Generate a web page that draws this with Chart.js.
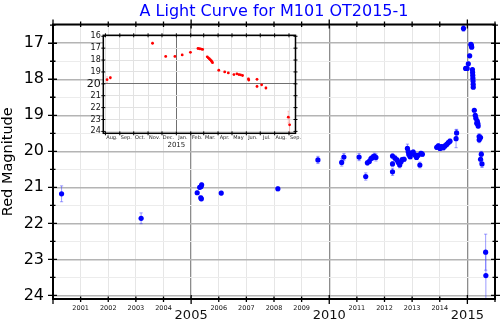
<!DOCTYPE html>
<html>
<head>
<meta charset="utf-8">
<script src="https://cdn.jsdelivr.net/npm/chart.js@4.4.0/dist/chart.umd.min.js"></script>
<style>
    html, body { margin: 0; padding: 0; background: #fff; }
    #wrap { position: relative; width: 500px; height: 325px; }
    #mainChart { position: absolute; left: 0; top: 0; }
    #insetChart { position: absolute; left: 70px; top: 28px; }
</style>
</head>
<body>
<div id="wrap">
    <canvas id="mainChart" width="500" height="325"></canvas>
    <canvas id="insetChart" width="232" height="124"></canvas>
</div>
<script>
// older photometry (decimal year, red magnitude, 1-sigma error)
const oldYears = [2000.31, 2003.19, 2005.22, 2005.31, 2005.36, 2005.38, 2005.35, 2005.37, 2006.09, 2008.14, 2009.59,
    2010.45, 2010.53, 2011.08, 2011.32, 2011.38, 2011.45, 2011.51, 2011.57, 2011.63, 2011.69,
    2012.29, 2012.29, 2012.29, 2012.38, 2012.45, 2012.50, 2012.55, 2012.60, 2012.64, 2012.71,
    2012.83, 2012.86, 2012.88, 2012.93, 2012.98, 2013.04, 2013.10, 2013.16, 2013.22, 2013.28, 2013.32, 2013.37,
    2013.89, 2013.95, 2014.01, 2014.07, 2014.13, 2014.19, 2014.25, 2014.31, 2014.37];
const oldMags = [21.18, 21.86, 21.15, 21.00, 20.98, 20.93, 21.29, 21.32, 21.16, 21.04, 20.24,
    20.31, 20.16, 20.16, 20.70, 20.32, 20.28, 20.20, 20.17, 20.13, 20.17,
    20.13, 20.35, 20.57, 20.19, 20.24, 20.31, 20.38, 20.29, 20.23, 20.22,
    19.92, 20.01, 20.09, 20.15, 20.06, 20.02, 20.10, 20.17, 20.11, 20.38, 20.06, 20.08,
    19.89, 19.85, 19.92, 19.87, 19.90, 19.85, 19.81, 19.76, 19.72];
const oldErrs = [0.22, 0.15, 0.05, 0.05, 0.05, 0.05, 0.05, 0.05, 0.05, 0.06, 0.10,
    0.10, 0.10, 0.10, 0.10, 0.06, 0.06, 0.06, 0.08, 0.08, 0.10,
    0.06, 0.06, 0.10, 0.08, 0.06, 0.06, 0.08, 0.06, 0.06, 0.06,
    0.12, 0.08, 0.08, 0.06, 0.06, 0.06, 0.06, 0.06, 0.06, 0.08, 0.06, 0.06,
    0.06, 0.06, 0.06, 0.06, 0.06, 0.06, 0.06, 0.06, 0.06];

// outburst photometry (days from 2015-01-01)
const recentDays = [-149.5, -142.4, -51.4, -23.0, -3.1, 12.6, 30.4, 46.7, 50.3, 53.8, 56.7,
    66.6, 68.7, 70.9, 73.0, 75.1, 76.6, 78.0, 91.5, 104.3, 112.1, 124.2, 130.6, 134.9, 138.4, 142.7,
    155.5, 156.2, 174.0, 174.0, 184.0, 193.2, 241.5, 244.3];
const recentMags = [19.65, 19.49, 16.59, 17.70, 17.70, 17.57, 17.35, 17.03, 17.05, 17.08, 17.11,
    17.73, 17.81, 17.89, 17.97, 18.05, 18.14, 18.22, 18.86, 19.00, 19.08, 19.22, 19.16, 19.22, 19.24, 19.30,
    19.59, 19.68, 19.62, 20.22, 20.08, 20.35, 22.80, 23.45];
const recentErrs = [0.25, 0.10, 0.08, 0.05, 0.05, 0.05, 0.05, 0.04, 0.04, 0.04, 0.04,
    0.04, 0.04, 0.04, 0.04, 0.04, 0.04, 0.04, 0.05, 0.05, 0.05, 0.05, 0.05, 0.05, 0.05, 0.05,
    0.08, 0.08, 0.08, 0.10, 0.08, 0.10, 0.50, 0.65];

// tick positions
const yearTicks = [2000, 2001, 2002, 2003, 2004, 2005, 2006, 2007, 2008, 2009, 2010, 2011, 2012, 2013, 2014, 2015, 2016];
const magTicks = [16.5, 17, 17.5, 18, 18.5, 19, 19.5, 20, 20.5, 21, 21.5, 22, 22.5, 23, 23.5, 24];
const insetMagTicks = [16, 17, 18, 19, 20, 21, 22, 23, 24];
const monthStarts = [-153, -122, -92, -61, -31, 0, 31, 59, 90, 120, 151, 181, 212, 243];
const monthMids = [-139, -108, -78, -47, -17, 14, 45, 73, 104, 134, 165, 195, 226, 257];
const monthNames = ['Aug.', 'Sep.', 'Oct.', 'Nov.', 'Dec.', 'Jan.', 'Feb.', 'Mar.', 'Apr.', 'May', 'Jun.', 'Jul.', 'Aug.', 'Sep.'];

const FONT = "'DejaVu Sans', sans-serif";

function isMultiple(v, step) {
    if (!step) return false;
    const r = v / step;
    return Math.abs(r - Math.round(r)) < 1e-6;
}

// error bars drawn under the points
const errorBars = {
    id: 'errorBars',
    beforeDatasetsDraw(chart, args, opts) {
        const { ctx, chartArea: a } = chart;
        const xs = chart.scales.x, ys = chart.scales.y;
        ctx.save();
        ctx.beginPath();
        ctx.rect(a.left, a.top, a.right - a.left, a.bottom - a.top);
        ctx.clip();
        chart.data.datasets.forEach(ds => {
            if (!ds.errors) return;
            ctx.strokeStyle = ds.errorColor;
            ctx.lineWidth = opts.width || 1;
            ds.data.forEach((p, i) => {
                const e = ds.errors[i];
                const x = xs.getPixelForValue(p.x);
                const y1 = ys.getPixelForValue(p.y - e);
                const y2 = ys.getPixelForValue(p.y + e);
                ctx.beginPath();
                ctx.moveTo(x, y1); ctx.lineTo(x, y2);
                ctx.moveTo(x - opts.cap, y1); ctx.lineTo(x + opts.cap, y1);
                ctx.moveTo(x - opts.cap, y2); ctx.lineTo(x + opts.cap, y2);
                ctx.stroke();
            });
        });
        ctx.restore();
    }
};

// black frame with in-out tick marks on all four sides
const frameTicks = {
    id: 'frameTicks',
    afterDraw(chart, args, opts) {
        const { ctx, chartArea: a } = chart;
        const xs = chart.scales.x, ys = chart.scales.y;
        ctx.save();
        ctx.strokeStyle = '#000';
        ctx.lineWidth = opts.tickWidth;
        opts.xMarks.forEach(v => {
            const px = xs.getPixelForValue(v);
            const [tin, tout] = isMultiple(v, opts.xMajorStep) ? opts.major : opts.minor;
            ctx.beginPath();
            ctx.moveTo(px, a.bottom - tin); ctx.lineTo(px, a.bottom + tout);
            ctx.moveTo(px, a.top + tin); ctx.lineTo(px, a.top - tout);
            ctx.stroke();
        });
        opts.yMarks.forEach(v => {
            const py = ys.getPixelForValue(v);
            const [tin, tout] = isMultiple(v, opts.yMajorStep) ? opts.major : opts.minor;
            ctx.beginPath();
            ctx.moveTo(a.left + tin, py); ctx.lineTo(a.left - tout, py);
            ctx.moveTo(a.right - tin, py); ctx.lineTo(a.right + tout, py);
            ctx.stroke();
        });
        ctx.lineWidth = opts.frameWidth;
        ctx.strokeRect(a.left, a.top, a.right - a.left, a.bottom - a.top);
        ctx.restore();
    }
};

const mainTitle = {
    id: 'mainTitle',
    afterDraw(chart, args, opts) {
        const { ctx, chartArea: a } = chart;
        ctx.save();
        ctx.fillStyle = opts.color;
        ctx.font = opts.font;
        ctx.textAlign = 'center';
        ctx.textBaseline = 'alphabetic';
        ctx.fillText(opts.text, (a.left + a.right) / 2, opts.baseline);
        ctx.restore();
    }
};

const insetBackground = {
    id: 'insetBackground',
    beforeDraw(chart) {
        const { ctx, chartArea: a } = chart;
        ctx.save();
        ctx.fillStyle = '#fff';
        ctx.fillRect(a.left, a.top, a.right - a.left, a.bottom - a.top);
        ctx.restore();
    }
};

const oldPoints = oldYears.map((x, i) => ({ x: x, y: oldMags[i] }));
const recentPointsYears = recentDays.map((d, i) => ({ x: 2015 + d / 365, y: recentMags[i] }));
const recentPointsDays = recentDays.map((d, i) => ({ x: d, y: recentMags[i] }));

new Chart(document.getElementById('mainChart'), {
    type: 'scatter',
    data: {
        datasets: [
            { data: oldPoints, errors: oldErrs, errorColor: 'rgba(60,60,255,0.5)',
              backgroundColor: '#0000ff', pointRadius: 2.6, borderWidth: 0 },
            { data: recentPointsYears, errors: recentErrs, errorColor: 'rgba(60,60,255,0.5)',
              backgroundColor: '#0000ff', pointRadius: 2.6, borderWidth: 0 }
        ]
    },
    options: {
        responsive: false,
        animation: false,
        layout: { padding: { top: 24.5, right: 2.5, left: 0, bottom: 0 } },
        plugins: {
            legend: { display: false },
            tooltip: { enabled: false },
            errorBars: { cap: 1.6, width: 1 },
            frameTicks: {
                xMarks: yearTicks, yMarks: magTicks, xMajorStep: 5, yMajorStep: 1,
                major: [4, 5], minor: [2.5, 3], tickWidth: 1.3, frameWidth: 2
            },
            mainTitle: { text: 'A Light Curve for M101 OT2015-1', color: '#0000ff',
                         font: '16px ' + FONT, baseline: 16 }
        },
        scales: {
            x: {
                type: 'linear',
                min: 2000, max: 2016,
                afterBuildTicks: s => { s.ticks = yearTicks.map(v => ({ value: v })); },
                afterFit: s => { s.height = 26; },
                border: { display: false },
                grid: {
                    drawTicks: false,
                    color: c => c.tick && isMultiple(c.tick.value, 5) ? '#8c8c8c' : '#e6e6e6',
                    lineWidth: c => c.tick && isMultiple(c.tick.value, 5) ? 1.3 : 1
                },
                ticks: {
                    autoSkip: false, maxRotation: 0, padding: 5, color: '#111',
                    callback: v => (v > 2000 && v < 2016) ? String(v) : '',
                    font: c => c.tick && isMultiple(c.tick.value, 5)
                        ? { family: FONT, size: 13, lineHeight: 1.8 }
                        : { family: FONT, size: 6.5, lineHeight: 1.2 }
                }
            },
            y: {
                type: 'linear',
                reverse: true,
                min: 16.48, max: 24.1,
                afterBuildTicks: s => { s.ticks = magTicks.map(v => ({ value: v })); },
                afterFit: s => { s.width = 53; },
                border: { display: false },
                grid: {
                    drawTicks: false,
                    color: c => c.tick && isMultiple(c.tick.value, 1) ? '#b4b4b4' : '#ececec',
                    lineWidth: c => c.tick && isMultiple(c.tick.value, 1) ? 1.5 : 1
                },
                ticks: {
                    autoSkip: false, padding: 9, color: '#000',
                    font: { family: FONT, size: 16 },
                    callback: v => isMultiple(v, 1) ? String(v) : ''
                },
                title: {
                    display: true, text: 'Red Magnitude', color: '#000',
                    font: { family: FONT, size: 14.5 },
                    padding: { top: 0, bottom: 0 }
                }
            }
        }
    },
    plugins: [errorBars, frameTicks, mainTitle]
});

new Chart(document.getElementById('insetChart'), {
    type: 'scatter',
    data: {
        datasets: [
            { data: recentPointsDays, errors: recentErrs, errorColor: 'rgba(255,90,90,0.4)',
              backgroundColor: '#ff0000', pointRadius: 1.4, borderWidth: 0 }
        ]
    },
    options: {
        responsive: false,
        animation: false,
        layout: { padding: { top: 3.7, right: 4.3, left: 0, bottom: 0 } },
        plugins: {
            legend: { display: false },
            tooltip: { enabled: false },
            errorBars: { cap: 0.8, width: 0.8 },
            frameTicks: {
                xMarks: monthStarts, yMarks: insetMagTicks, xMajorStep: 0, yMajorStep: 0,
                major: [2, 2], minor: [2, 2], tickWidth: 1, frameWidth: 1.5
            }
        },
        scales: {
            x: {
                type: 'linear',
                min: -157.6, max: 257,
                afterBuildTicks: s => {
                    s.ticks = monthStarts.concat(monthMids).sort((a, b) => a - b).map(v => ({ value: v }));
                },
                afterFit: s => { s.height = 18.7; },
                border: { display: false },
                grid: {
                    drawTicks: false,
                    color: c => {
                        if (!c.tick) return 'rgba(0,0,0,0)';
                        if (c.tick.value === 0) return '#707070';
                        return monthStarts.includes(c.tick.value) ? '#e2e2e2' : 'rgba(0,0,0,0)';
                    },
                    lineWidth: 1
                },
                ticks: {
                    autoSkip: false, maxRotation: 0, padding: 1, color: '#222',
                    callback: v => {
                        if (v === 0) return '2015';
                        const i = monthMids.indexOf(v);
                        return i >= 0 ? monthNames[i] : '';
                    },
                    font: c => c.tick && c.tick.value === 0
                        ? { family: FONT, size: 7, lineHeight: 3.05 }
                        : { family: FONT, size: 5, lineHeight: 1.2 }
                }
            },
            y: {
                type: 'linear',
                reverse: true,
                min: 15.92, max: 24.16,
                afterBuildTicks: s => { s.ticks = insetMagTicks.map(v => ({ value: v })); },
                afterFit: s => { s.width = 33.3; },
                border: { display: false },
                grid: {
                    drawTicks: false,
                    color: c => c.tick && c.tick.value === 20 ? '#707070' : '#e2e2e2',
                    lineWidth: 1
                },
                ticks: {
                    autoSkip: false, padding: 2.5, color: '#111',
                    callback: v => String(v),
                    font: c => c.tick && c.tick.value === 20
                        ? { family: FONT, size: 11 }
                        : { family: FONT, size: 8 }
                }
            }
        }
    },
    plugins: [insetBackground, errorBars, frameTicks]
});
</script>
</body>
</html>
